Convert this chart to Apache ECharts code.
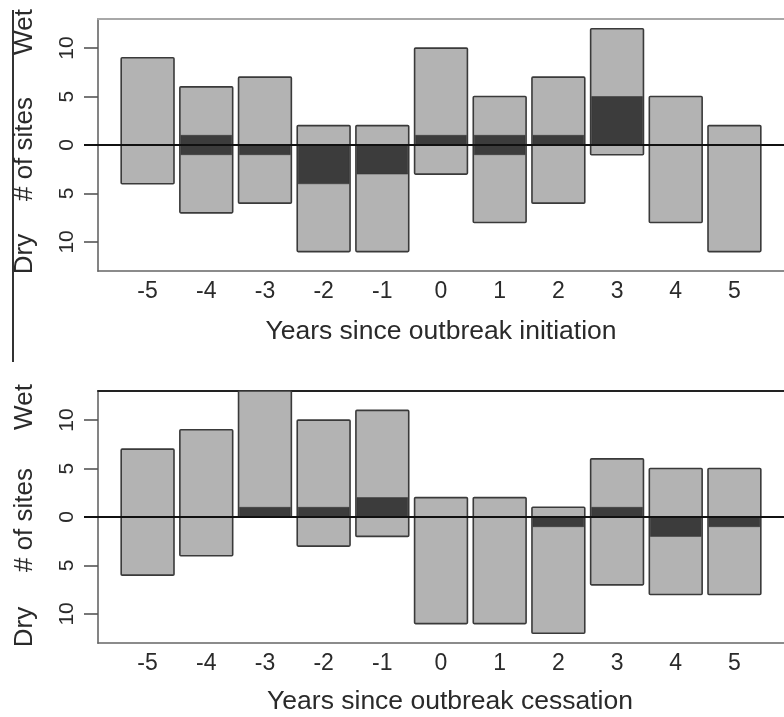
<!DOCTYPE html>
<html>
<head>
<meta charset="utf-8">
<script src="https://cdn.jsdelivr.net/npm/echarts@6/dist/echarts.min.js"></script>
<style>
html,body{margin:0;padding:0;background:#fff;}
#chart{width:784px;height:717px;}
</style>
</head>
<body>
<div id="chart"></div>
<script>
// Years relative to outbreak
var years = [-5, -4, -3, -2, -1, 0, 1, 2, 3, 4, 5];
var yTicks = [-10, -5, 0, 5, 10];

// Panel 1: outbreak initiation
var initWet      = [9, 6, 7, 2, 2, 10, 5, 7, 12, 5, 2];
var initDry      = [4, 7, 6, 11, 11, 3, 8, 6, 1, 8, 11];
var initDarkWet  = [0, 1, 0, 0, 0, 1, 1, 1, 5, 0, 0];
var initDarkDry  = [0, 1, 1, 4, 3, 0, 1, 0, 0, 0, 0];

// Panel 2: outbreak cessation
var cessWet      = [7, 9, 13, 10, 11, 2, 2, 1, 6, 5, 5];
var cessDry      = [6, 4, 0, 3, 2, 11, 11, 12, 7, 8, 8];
var cessDarkWet  = [0, 0, 1, 1, 2, 0, 0, 0, 1, 0, 0];
var cessDarkDry  = [0, 0, 0, 0, 0, 0, 0, 1, 0, 2, 1];

var titles = ['Years since outbreak initiation', 'Years since outbreak cessation'];

var chart = echarts.init(document.getElementById('chart'), null, {renderer: 'canvas'});

var FONT = '"Liberation Sans", Arial, Helvetica, sans-serif';
var XMIN = -5.845, XMAX = 5.845;

function buildData(wet, dry, dw, dd) {
  return years.map(function (y, i) { return [y, wet[i], dry[i], dw[i], dd[i]]; });
}

function renderBars(params, api) {
  var x = api.value(0), wet = api.value(1), dry = api.value(2), dw = api.value(3), dd = api.value(4);
  var w = api.size([0.9, 0])[0];
  var top = api.coord([x, wet]), bot = api.coord([x, -dry]);
  var dTop = api.coord([x, dw]), dBot = api.coord([x, -dd]);
  var children = [{
    type: 'rect',
    shape: {x: top[0] - w / 2, y: top[1], width: w, height: bot[1] - top[1], r: 1},
    style: {fill: '#b3b3b3', stroke: '#3a3a3a', lineWidth: 1.6}
  }];
  if (dw + dd > 0) {
    children.push({
      type: 'rect',
      shape: {x: top[0] - w / 2 + 1, y: dTop[1], width: w - 2, height: dBot[1] - dTop[1]},
      style: {fill: '#3c3c3c', stroke: '#333', lineWidth: 0.5}
    });
  }
  return {type: 'group', children: children};
}

function renderZero(params, api) {
  var a = api.coord([XMIN, 0]), b = api.coord([XMAX, 0]);
  return {type: 'line', shape: {x1: a[0] - 14, y1: a[1], x2: b[0], y2: b[1]},
          style: {stroke: '#111', lineWidth: 2}};
}

var gridTops = [19, 391];
var grids = [], xAxes = [], yAxes = [], series = [];
var panels = [
  buildData(initWet, initDry, initDarkWet, initDarkDry),
  buildData(cessWet, cessDry, cessDarkWet, cessDarkDry)
];
var topColors = ['#a8a8a8', '#222'];

for (var p = 0; p < 2; p++) {
  grids.push({left: 98, top: gridTops[p], width: 692, height: 252, containLabel: false});
  xAxes.push({
    type: 'value', gridIndex: p, min: XMIN, max: XMAX, position: 'bottom',
    axisLine: {show: true, onZero: false, lineStyle: {color: '#666', width: 1.6}},
    axisTick: {show: false},
    splitLine: {show: false},
    axisLabel: {customValues: years, fontFamily: FONT, fontSize: 23, color: '#2a2a2a', margin: 9,
                formatter: function (v) { return String(v); }}
  });
  xAxes.push({
    type: 'value', gridIndex: p, min: XMIN, max: XMAX, position: 'top',
    axisLine: {show: true, onZero: false, lineStyle: {color: topColors[p], width: 1.8}},
    axisTick: {show: false}, axisLabel: {show: false}, splitLine: {show: false}
  });
  yAxes.push({
    type: 'value', gridIndex: p, min: -13, max: 13, position: 'left',
    axisLine: {show: true, onZero: false, lineStyle: {color: '#777', width: 1.8}},
    axisTick: {show: true, length: 14, customValues: yTicks, lineStyle: {color: '#555', width: 1.6}},
    splitLine: {show: false},
    axisLabel: {customValues: yTicks, rotate: 90, fontFamily: FONT, fontSize: 21, color: '#2a2a2a', margin: 20,
                formatter: function (v) { return String(Math.abs(v)); }}
  });
  series.push({
    type: 'custom', xAxisIndex: p * 2, yAxisIndex: p, renderItem: renderBars,
    data: panels[p], clip: false, silent: true, z: 2
  });
  series.push({
    type: 'custom', xAxisIndex: p * 2, yAxisIndex: p, renderItem: renderZero,
    data: [[0, 0]], clip: false, silent: true, z: 5
  });
}

function vText(txt, x, y) {
  return {type: 'text', x: x, y: y, rotation: Math.PI / 2,
          style: {text: txt, fontFamily: FONT, fontSize: 26, fill: '#2a2a2a', align: 'center', verticalAlign: 'middle'}};
}
function hText(txt, x, y) {
  return {type: 'text', x: x, y: y,
          style: {text: txt, fontFamily: FONT, fontSize: 26.5, fill: '#2a2a2a', align: 'center', verticalAlign: 'middle'}};
}

var graphics = [
  {type: 'line', shape: {x1: 13, y1: 10, x2: 13, y2: 362}, style: {stroke: '#333', lineWidth: 2}},
  vText('Wet', 25, 32), vText('# of sites', 25, 149), vText('Dry', 25, 254),
  vText('Wet', 25, 407), vText('# of sites', 25, 520), vText('Dry', 25, 627),
  hText(titles[0], 441, 332), hText(titles[1], 450, 702)
];

chart.setOption({
  backgroundColor: '#fff',
  animation: false,
  grid: grids,
  xAxis: xAxes,
  yAxis: yAxes,
  series: series,
  graphic: graphics
});
</script>
</body>
</html>
